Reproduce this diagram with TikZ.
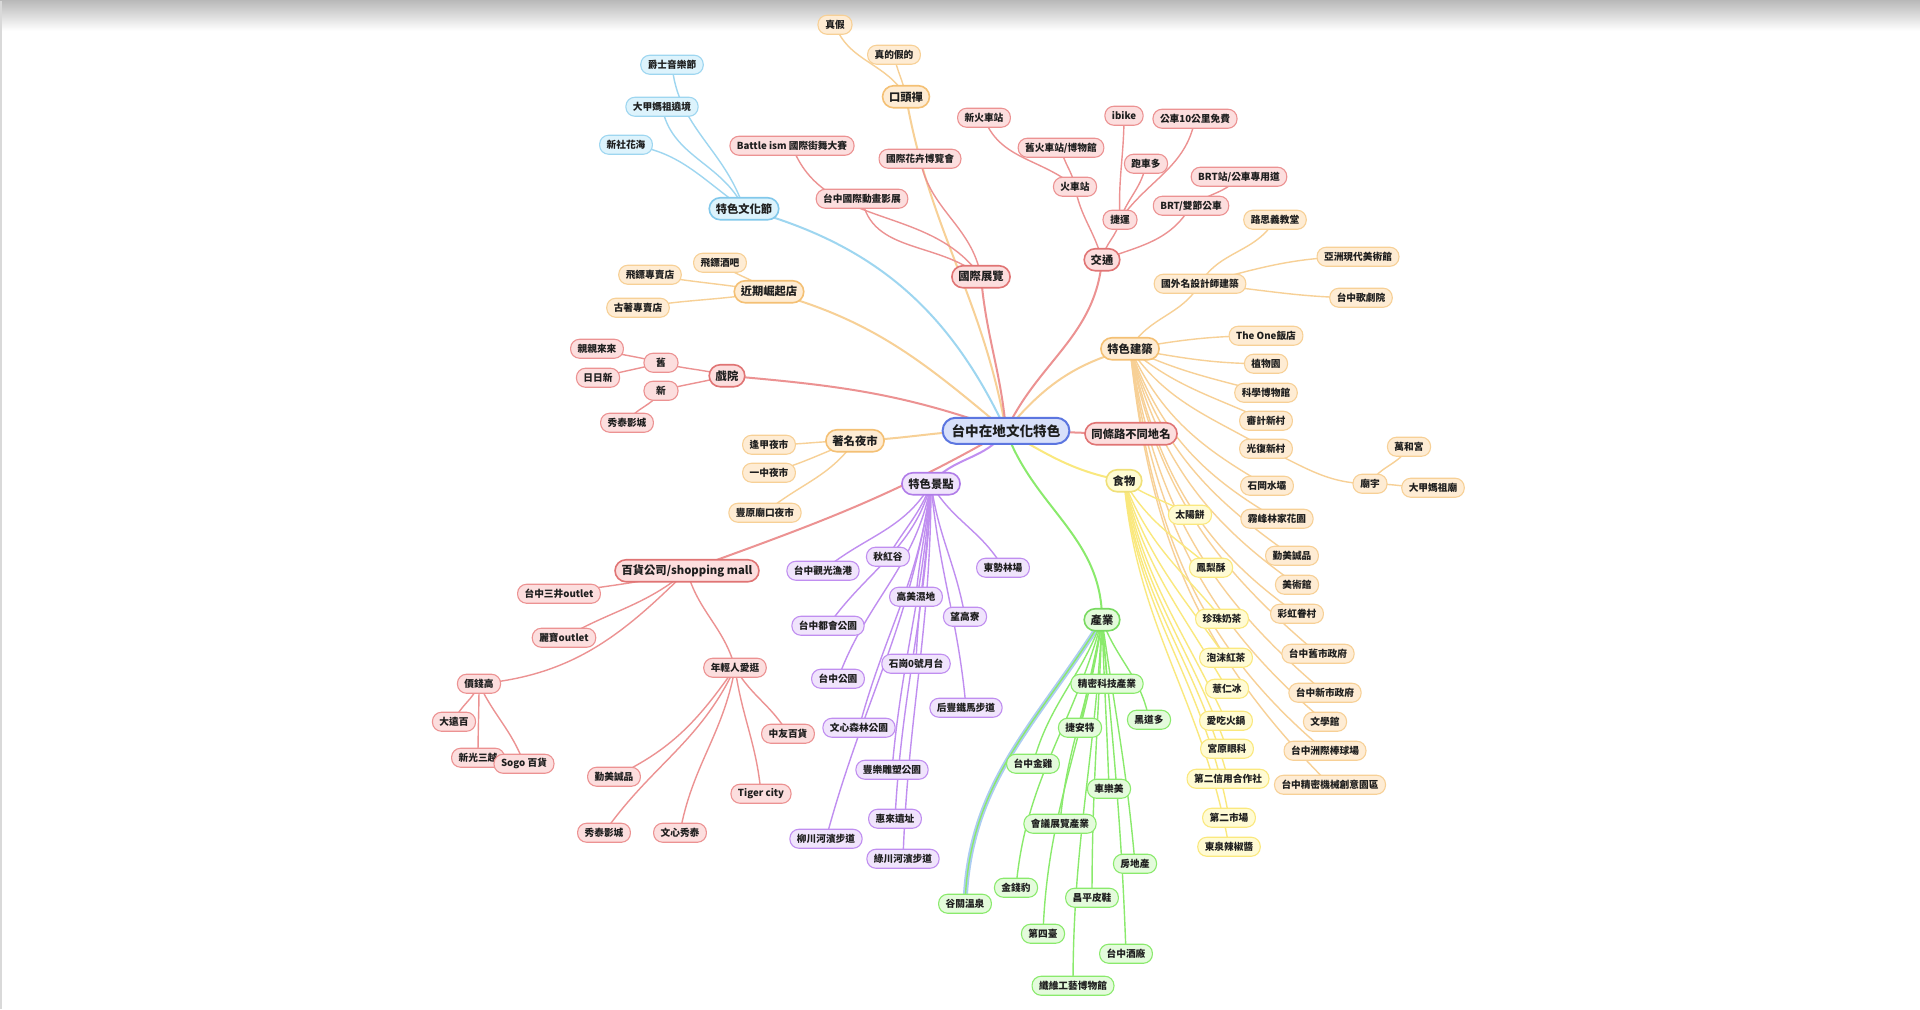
\documentclass[tikz,border=0pt]{standalone}
\usepackage{fontspec}
\setmainfont{Noto Sans CJK TC}
\usetikzlibrary{calc}
\pgfdeclarelayer{paper}
\pgfdeclarelayer{edges}
\pgfsetlayers{paper,edges,main}
\definecolor{ink}{RGB}{30,30,30}
\definecolor{rootfill}{RGB}{216,224,250}
\definecolor{rootline}{RGB}{92,118,224}
\definecolor{bluefill}{RGB}{221,243,252}
\definecolor{blueline}{RGB}{158,214,240}
\definecolor{bluedark}{RGB}{130,200,235}
\definecolor{redfill}{RGB}{252,222,222}
\definecolor{redline}{RGB}{236,146,146}
\definecolor{reddark}{RGB}{224,116,116}
\definecolor{orangefill}{RGB}{254,236,212}
\definecolor{orangeline}{RGB}{247,208,150}
\definecolor{orangedark}{RGB}{244,192,116}
\definecolor{yellowfill}{RGB}{255,251,212}
\definecolor{yellowline}{RGB}{250,232,125}
\definecolor{yellowdark}{RGB}{240,224,120}
\definecolor{greenfill}{RGB}{228,251,220}
\definecolor{greenline}{RGB}{138,234,108}
\definecolor{greendark}{RGB}{120,218,96}
\definecolor{purplefill}{RGB}{240,228,252}
\definecolor{purpleline}{RGB}{192,142,240}
\definecolor{purpledark}{RGB}{176,124,232}
\definecolor{halo}{RGB}{172,204,242}

\begin{document}
\begin{tikzpicture}[
    x=1pt, y=1pt,
    leaf/.style={draw=#1line, fill=#1fill, text=ink, rounded corners=9pt,
        line width=1.1pt, minimum height=19pt, minimum width=34pt,
        inner xsep=7pt, inner ysep=0pt,
        font=\fontsize{9.7}{10}\selectfont\bfseries},
    topic/.style={draw=#1dark, fill=#1fill, text=ink, rounded corners=11pt,
        line width=1.6pt, minimum height=22pt, inner xsep=6.5pt,
        inner ysep=0pt, font=\fontsize{11.3}{12}\selectfont\bfseries},
    root/.style={draw=rootline, fill=rootfill, text=ink, rounded corners=13pt,
        line width=2pt, minimum height=26pt, inner xsep=9pt, inner ysep=0pt,
        font=\fontsize{13.6}{14}\selectfont\bfseries},
    twig/.style={draw=#1line, line width=1.4pt},
    bough/.style={draw=#1line, line width=2pt},
]
    %% the paper, with the grey fade along its top
    \begin{pgfonlayer}{paper}
        \fill[white] (0,0) rectangle (1920,-1008);
        \shade[top color=black!27, bottom color=white] (0,0) rectangle
            (1920,-30);
        \draw[black!15, line width=1.5pt] (.75,0) -- (.75,-1008);
    \end{pgfonlayer}
    \useasboundingbox (0,0) rectangle (1920,-1008);

    %% the centre and its thirteen branches
    \node[root] (root) at (1006,-430) {台中在地文化特色};
    \node[topic=blue] (fest) at (744,-208) {特色文化節};
    \node[topic=orange] (koutou) at (906,-96) {口頭禪};
    \node[topic=red] (expo) at (981,-276) {國際展覽};
    \node[topic=red] (traffic) at (1102,-259) {交通};
    \node[topic=orange] (arch) at (1130,-348) {特色建築};
    \node[topic=red] (samerd) at (1131,-433) {同條路不同地名};
    \node[topic=yellow] (food) at (1124,-480) {食物};
    \node[topic=green] (industry) at (1102,-619) {產業};
    \node[topic=purple] (sights) at (931,-483) {特色景點};
    \node[topic=red] (mall) at (687,-570) {百貨公司/shopping mall};
    \node[topic=orange] (market) at (855,-440) {著名夜市};
    \node[topic=red] (theatre) at (727,-375) {戲院};
    \node[topic=orange] (rising) at (769,-291) {近期崛起店};

    \begin{pgfonlayer}{edges}
        \draw[bough=blue] (root.center) to[out=115,in=-15] (fest.center);
        \draw[bough=orange] (root.center) to[out=140,in=-15] (rising.center);
        \draw[bough=red] (root.center) to[out=160,in=-5] (theatre.center);
        \draw[bough=orange] (root.center) to[out=178,in=2] (market.center);
        \draw[bough=orange] (root.center) to[out=100,in=-80] (koutou.center);
        \draw[bough=red] (root.center) to[out=95,in=-85] (expo.center);
        \draw[bough=red] (root.center) to[out=65,in=-95] (traffic.center);
        \draw[bough=orange] (root.center) to[out=50,in=195] (arch.center);
        \draw[bough=red] (root.center) to[out=0,in=180] (samerd.center);
        \draw[bough=yellow] (root.center) to[out=-30,in=170] (food.center);
        \draw[bough=green] (root.center) to[out=-70,in=90] (industry.center);
        \draw[bough=purple] (root.center) to[out=-125,in=50] (sights.center);
        \draw[bough=red] (root.center) to[out=-150,in=20] (mall.center);
    \end{pgfonlayer}

    %% 特色文化節
    \foreach \nm/\x/\y/\t/\o/\i in {jazz/672/64/爵士音樂節/108/-85,
            mazu/662/106/大甲媽祖遶境/115/-80,
            flower/626/144/新社花海/145/-5} {
        \node[leaf=blue] (\nm) at (\x,-\y) {\t};
        \begin{pgfonlayer}{edges}
            \draw[twig=blue] (fest.center) to[out=\o,in=\i] (\nm.center);
        \end{pgfonlayer}
    }

    %% 口頭禪
    \foreach \nm/\x/\y/\t/\o/\i in {zhenjia/835/24/真假/120/-70,
            zhende/894/54/真的假的/100/-80} {
        \node[leaf=orange] (\nm) at (\x,-\y) {\t};
        \begin{pgfonlayer}{edges}
            \draw[twig=orange] (koutou.center) to[out=\o,in=\i] (\nm.center);
        \end{pgfonlayer}
    }

    %% 國際展覽
    \foreach \nm/\x/\y/\t/\o/\i in {battle/792/145/{Battle ism 國際街舞大賽}/125/-70,
            floraexpo/920/158/國際花卉博覽會/100/-80,
            anime/862/198/台中國際動畫影展/140/-80} {
        \node[leaf=red] (\nm) at (\x,-\y) {\t};
        \begin{pgfonlayer}{edges}
            \draw[twig=red] (expo.center) to[out=\o,in=\i] (\nm.center);
        \end{pgfonlayer}
    }

    %% 交通, two levels deep
    \foreach \nm/\x/\y/\t/\o/\i in {station/1075/186/火車站/105/-80,
            mrt/1120/219/捷運/80/-100,
            brt/1191/205/{BRT/雙節公車}/20/-120} {
        \node[leaf=red] (\nm) at (\x,-\y) {\t};
        \begin{pgfonlayer}{edges}
            \draw[twig=red] (traffic.center) to[out=\o,in=\i] (\nm.center);
        \end{pgfonlayer}
    }
    \foreach \p/\nm/\x/\y/\t/\o/\i in {station/newst/984/117/新火車站/140/-70,
            station/oldst/1061/147/{舊火車站/博物館}/100/-80,
            mrt/ibike/1124/115/ibike/93/-90,
            mrt/sports/1146/163/跑車多/70/-100,
            mrt/freebus/1195/118/公車10公里免費/55/-100,
            brt/brtlane/1239/176/{BRT站/公車專用道}/35/-130} {
        \node[leaf=red] (\nm) at (\x,-\y) {\t};
        \begin{pgfonlayer}{edges}
            \draw[twig=red] (\p.center) to[out=\o,in=\i] (\nm.center);
        \end{pgfonlayer}
    }

    %% 特色建築
    \foreach \nm/\x/\y/\t/\o/\i in {designer/1200/283/國外名設計師建築/60/-120,
            theone/1266/335/The One飯店/10/180,
            botanic/1266/363/植物園/-10/180,
            science/1266/392/科學博物館/-25/165,
            shenji/1266/420/審計新村/-40/155,
            guangfu/1266/448/光復新村/-55/150,
            shigang/1267/485/石岡水壩/-65/150,
            wufeng/1277/518/霧峰林家花園/-70/150,
            cmp/1292/555/勤美誠品/-73/145,
            artmus/1297/584/美術館/-75/145,
            rainbow/1297/613/彩虹眷村/-77/145,
            oldcity/1318/653/台中舊市政府/-79/140,
            newcity/1325/692/台中新市政府/-81/140,
            litmus/1325/721/文學館/-82/140,
            baseball/1325/750/台中洲際棒球場/-83/140,
            machine/1330/784/台中精密機械創意園區/-84/135} {
        \node[leaf=orange] (\nm) at (\x,-\y) {\t};
        \begin{pgfonlayer}{edges}
            \draw[twig=orange] (arch.center) to[out=\o,in=\i] (\nm.center);
        \end{pgfonlayer}
    }
    \foreach \p/\nm/\x/\y/\t/\o/\i in {designer/luce/1275/219/路思義教堂/60/-120,
            designer/asia/1358/256/亞洲現代美術館/15/180,
            designer/opera/1361/297/台中歌劇院/-5/180,
            guangfu/temple/1370/483/廟宇/-25/180,
            temple/wanhe/1409/446/萬和宮/60/-120,
            temple/dajia/1433/487/大甲媽祖廟/0/180} {
        \node[leaf=orange] (\nm) at (\x,-\y) {\t};
        \begin{pgfonlayer}{edges}
            \draw[twig=orange] (\p.center) to[out=\o,in=\i] (\nm.center);
        \end{pgfonlayer}
    }

    %% 食物
    \foreach \nm/\x/\y/\t/\o/\i in {sunbiscuit/1190/514/太陽餅/-35/150,
            pineapple/1211/567/鳳梨酥/-60/140,
            bubbletea/1222/618/珍珠奶茶/-70/130,
            foamtea/1226/657/泡沫紅茶/-74/125,
            barley/1227/688/薏仁冰/-77/120,
            hotpot/1226/720/愛吃火鍋/-79/115,
            miyahara/1227/748/宮原眼科/-81/110,
            coop/1228/778/第二信用合作社/-83/105,
            market2/1229/817/第二市場/-84/100,
            chili/1229/846/東泉辣椒醬/-85/100} {
        \node[leaf=yellow] (\nm) at (\x,-\y) {\t};
        \begin{pgfonlayer}{edges}
            \draw[twig=yellow] (food.center) to[out=\o,in=\i] (\nm.center);
        \end{pgfonlayer}
    }

    %% 產業
    \node[leaf=green] (guguan) at (965,-903) {谷關溫泉};
    \begin{pgfonlayer}{edges}
        \draw[twig=green, preaction={draw=halo, line width=5pt}]
            (industry.center) to[out=-122,in=88] (guguan.center);
    \end{pgfonlayer}
    \foreach \nm/\x/\y/\t/\o/\i in {precision/1107/683/精密科技產業/-88/92,
            heidao/1149/719/黑道多/-70/100,
            giant/1080/727/捷安特/-100/80,
            jinji/1033/763/台中金雞/-110/75,
            janome/1109/788/車樂美/-88/92,
            mice/1060/823/會議展覽產業/-98/85,
            estate/1135/863/房地產/-82/95,
            leopard/1016/887/金錢豹/-105/85,
            changping/1092/897/昌平皮鞋/-92/90,
            fourth/1043/933/第四臺/-98/88,
            winery/1126/953/台中酒廠/-85/92,
            fiber/1073/985/纖維工藝博物館/-93/90} {
        \node[leaf=green] (\nm) at (\x,-\y) {\t};
        \begin{pgfonlayer}{edges}
            \draw[twig=green] (industry.center) to[out=\o,in=\i] (\nm.center);
        \end{pgfonlayer}
    }

    %% 特色景點
    \foreach \nm/\x/\y/\t/\o/\i in {qiuhong/888/556/秋紅谷/-110/60,
            fishport/823/570/台中觀光漁港/-120/40,
            dongshi/1003/567/東勢林場/-60/120,
            gaomei/916/596/高美濕地/-95/85,
            wanggao/965/616/望高寮/-82/100,
            metropark/828/625/台中都會公園/-105/55,
            platform/916/663/石崗0號月台/-92/88,
            tcpark/838/678/台中公園/-100/70,
            houfeng/966/707/后豐鐵馬步道/-85/95,
            wenxin/859/727/文心森林公園/-97/75,
            fengle/892/769/豐樂雕塑公園/-94/85,
            huilai/895/818/惠來遺址/-92/87,
            liuchuan/826/838/柳川河濱步道/-98/75,
            lvchuan/903/858/綠川河濱步道/-90/88} {
        \node[leaf=purple] (\nm) at (\x,-\y) {\t};
        \begin{pgfonlayer}{edges}
            \draw[twig=purple] (sights.center) to[out=\o,in=\i] (\nm.center);
        \end{pgfonlayer}
    }

    %% 百貨公司/shopping mall
    \foreach \nm/\x/\y/\t/\o/\i in {mitsui/559/593/台中三井outlet/-165/10,
            lihpao/564/637/麗寶outlet/-140/30,
            pricey/479/683/價錢高/-135/5,
            young/735/667/年輕人愛逛/-75/105} {
        \node[leaf=red] (\nm) at (\x,-\y) {\t};
        \begin{pgfonlayer}{edges}
            \draw[twig=red] (mall.center) to[out=\o,in=\i] (\nm.center);
        \end{pgfonlayer}
    }
    \foreach \p/\nm/\x/\y/\t/\o/\i in {pricey/tfe/454/721/大遠百/-110/70,
            pricey/skm/478/757/新光三越/-90/90,
            pricey/sogo/524/763/Sogo 百貨/-65/110,
            young/chungyo/788/733/中友百貨/-60/120,
            young/tiger/761/793/Tiger city/-82/95,
            young/wxshow/680/832/文心秀泰/-100/80,
            young/showtime/604/832/秀泰影城/-115/55,
            young/cmpmall/614/776/勤美誠品/-125/25} {
        \node[leaf=red] (\nm) at (\x,-\y) {\t};
        \begin{pgfonlayer}{edges}
            \draw[twig=red] (\p.center) to[out=\o,in=\i] (\nm.center);
        \end{pgfonlayer}
    }

    %% 著名夜市
    \foreach \nm/\x/\y/\t/\o/\i in {fengjia/769/444/逢甲夜市/180/0,
            yizhong/769/472/一中夜市/-160/15,
            fengyuan/765/512/豐原廟口夜市/-125/40} {
        \node[leaf=orange] (\nm) at (\x,-\y) {\t};
        \begin{pgfonlayer}{edges}
            \draw[twig=orange] (market.center) to[out=\o,in=\i] (\nm.center);
        \end{pgfonlayer}
    }

    %% 戲院
    \foreach \p/\nm/\x/\y/\t/\o/\i in {theatre/oldth/661/362/舊/165/-15,
            theatre/newth/661/390/新/-165/15,
            oldth/qinqin/597/348/親親來來/165/-15,
            oldth/ririxin/598/377/日日新/-165/15,
            newth/showtimeb/627/422/秀泰影城/-120/60} {
        \node[leaf=red] (\nm) at (\x,-\y) {\t};
        \begin{pgfonlayer}{edges}
            \draw[twig=red] (\p.center) to[out=\o,in=\i] (\nm.center);
        \end{pgfonlayer}
    }

    %% 近期崛起店
    \foreach \nm/\x/\y/\t/\o/\i in {dartbar/720/262/飛鏢酒吧/140/-40,
            dartshop/650/274/飛鏢專賣店/170/-10,
            vintage/638/307/古著專賣店/-170/10} {
        \node[leaf=orange] (\nm) at (\x,-\y) {\t};
        \begin{pgfonlayer}{edges}
            \draw[twig=orange] (rising.center) to[out=\o,in=\i] (\nm.center);
        \end{pgfonlayer}
    }
\end{tikzpicture}
\end{document}
